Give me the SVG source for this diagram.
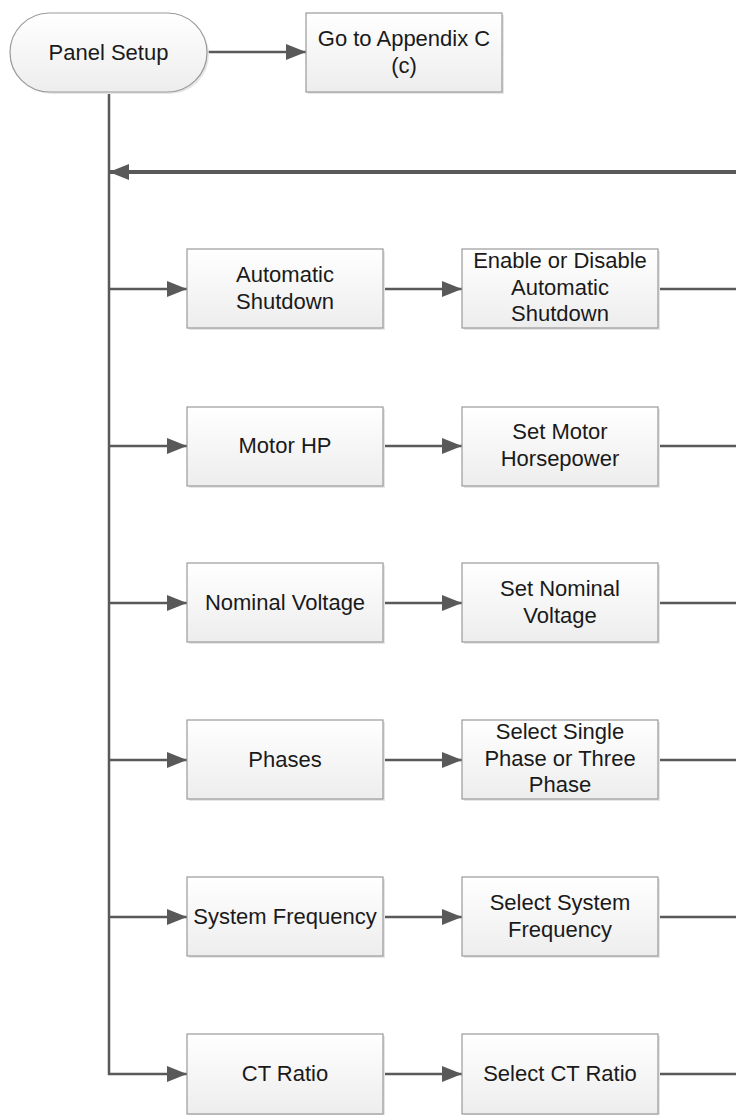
<svg xmlns="http://www.w3.org/2000/svg" width="736" height="1115" viewBox="0 0 736 1115">
<style>
.box{fill:url(#g);stroke:#9a9a9a;stroke-width:1.2}
.sh{fill:#e6e6e6}
.t{font-family:"Liberation Sans",Arial,sans-serif;font-size:22px;fill:#1a1a1a;text-anchor:middle}
.c{stroke:#595959;stroke-width:2.5;fill:none}
</style>
<defs>
<linearGradient id="g" x1="0" y1="0" x2="0" y2="1"><stop offset="0" stop-color="#ffffff"/><stop offset="1" stop-color="#ededed"/></linearGradient>
<marker id="ahb" markerWidth="20" markerHeight="16" refX="20" refY="8" orient="auto" markerUnits="userSpaceOnUse"><path d="M0,0 L20,8 L0,16 z" fill="#595959"/></marker>
<marker id="ahs" markerWidth="20" markerHeight="16" refX="20" refY="8" orient="auto" markerUnits="userSpaceOnUse"><path d="M0,0 L20,8 L0,16 z" fill="#595959"/></marker>
</defs>
<g id="connectors">
<path class="c" d="M207,52 H306" marker-end="url(#ahs)"/>
<path class="c" d="M109,92 V1074 H187" marker-end="url(#ahs)"/>
<path stroke="#595959" stroke-width="4" fill="none" d="M736,172 H109" marker-end="url(#ahb)"/>
<path class="c" d="M109,289 H187" marker-end="url(#ahs)"/>
<path class="c" d="M109,446 H187" marker-end="url(#ahs)"/>
<path class="c" d="M109,603 H187" marker-end="url(#ahs)"/>
<path class="c" d="M109,760 H187" marker-end="url(#ahs)"/>
<path class="c" d="M109,917 H187" marker-end="url(#ahs)"/>
<path class="c" d="M383,289 H462" marker-end="url(#ahs)"/>
<path class="c" d="M383,446 H462" marker-end="url(#ahs)"/>
<path class="c" d="M383,603 H462" marker-end="url(#ahs)"/>
<path class="c" d="M383,760 H462" marker-end="url(#ahs)"/>
<path class="c" d="M383,917 H462" marker-end="url(#ahs)"/>
<path class="c" d="M383,1074 H462" marker-end="url(#ahs)"/>
<path class="c" d="M658,289 H736"/>
<path class="c" d="M658,446 H736"/>
<path class="c" d="M658,603 H736"/>
<path class="c" d="M658,760 H736"/>
<path class="c" d="M658,917 H736"/>
<path class="c" d="M658,1074 H736"/>
</g>
<g id="panel-setup">
<rect x="12" y="15" width="197" height="79" rx="39.5" class="sh"/>
<rect x="10" y="13" width="197" height="79" rx="39.5" class="box"/>
<text class="t" x="108.5" y="60">Panel Setup</text>
</g>
<g id="appendix-c">
<rect x="308" y="15" width="196" height="79" class="sh"/>
<rect x="306" y="13" width="196" height="79" class="box"/>
<text class="t" x="404" y="46">Go to Appendix C</text>
<text class="t" x="404" y="72.5">(c)</text>
</g>
<g id="automatic-shutdown">
<rect x="189" y="251" width="196" height="79" class="sh"/>
<rect x="187" y="249" width="196" height="79" class="box"/>
<text class="t" x="285" y="282">Automatic</text>
<text class="t" x="285" y="308.5">Shutdown</text>
</g>
<g id="enable-disable">
<rect x="464" y="251" width="196" height="79" class="sh"/>
<rect x="462" y="249" width="196" height="79" class="box"/>
<text class="t" x="560" y="268">Enable or Disable</text>
<text class="t" x="560" y="294.5">Automatic</text>
<text class="t" x="560" y="321">Shutdown</text>
</g>
<g id="motor-hp">
<rect x="189" y="409" width="196" height="79" class="sh"/>
<rect x="187" y="407" width="196" height="79" class="box"/>
<text class="t" x="285" y="453">Motor HP</text>
</g>
<g id="set-motor-hp">
<rect x="464" y="409" width="196" height="79" class="sh"/>
<rect x="462" y="407" width="196" height="79" class="box"/>
<text class="t" x="560" y="439">Set Motor</text>
<text class="t" x="560" y="465.5">Horsepower</text>
</g>
<g id="nominal-voltage">
<rect x="189" y="565" width="196" height="79" class="sh"/>
<rect x="187" y="563" width="196" height="79" class="box"/>
<text class="t" x="285" y="610">Nominal Voltage</text>
</g>
<g id="set-nominal-voltage">
<rect x="464" y="565" width="196" height="79" class="sh"/>
<rect x="462" y="563" width="196" height="79" class="box"/>
<text class="t" x="560" y="596">Set Nominal</text>
<text class="t" x="560" y="622.5">Voltage</text>
</g>
<g id="phases">
<rect x="189" y="722" width="196" height="79" class="sh"/>
<rect x="187" y="720" width="196" height="79" class="box"/>
<text class="t" x="285" y="767">Phases</text>
</g>
<g id="select-phase">
<rect x="464" y="722" width="196" height="79" class="sh"/>
<rect x="462" y="720" width="196" height="79" class="box"/>
<text class="t" x="560" y="739">Select Single</text>
<text class="t" x="560" y="765.5">Phase or Three</text>
<text class="t" x="560" y="792">Phase</text>
</g>
<g id="system-frequency">
<rect x="189" y="879" width="196" height="79" class="sh"/>
<rect x="187" y="877" width="196" height="79" class="box"/>
<text class="t" x="285" y="924">System Frequency</text>
</g>
<g id="select-system-frequency">
<rect x="464" y="879" width="196" height="79" class="sh"/>
<rect x="462" y="877" width="196" height="79" class="box"/>
<text class="t" x="560" y="910">Select System</text>
<text class="t" x="560" y="936.5">Frequency</text>
</g>
<g id="ct-ratio">
<rect x="189" y="1036" width="196" height="80" class="sh"/>
<rect x="187" y="1034" width="196" height="80" class="box"/>
<text class="t" x="285" y="1081">CT Ratio</text>
</g>
<g id="select-ct-ratio">
<rect x="464" y="1036" width="196" height="80" class="sh"/>
<rect x="462" y="1034" width="196" height="80" class="box"/>
<text class="t" x="560" y="1081">Select CT Ratio</text>
</g>
</svg>
